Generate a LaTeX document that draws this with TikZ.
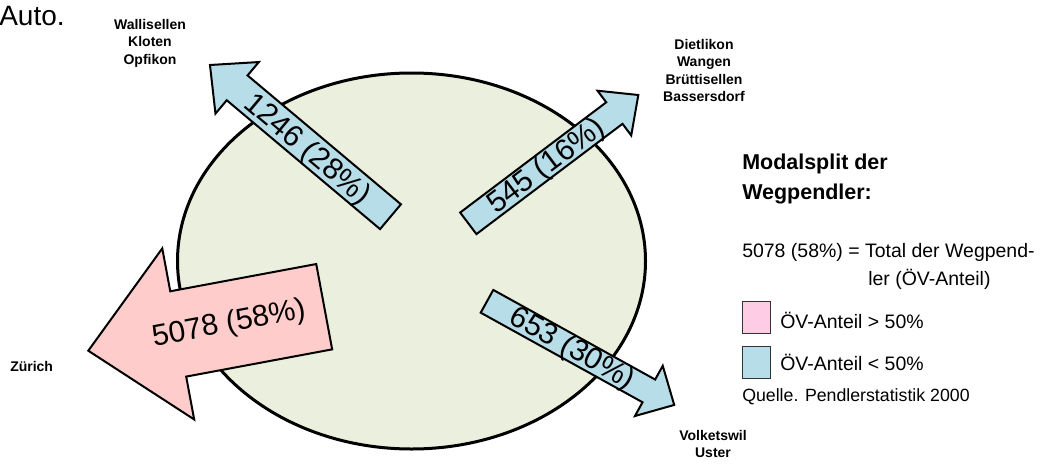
\documentclass[tikz,border=0pt]{standalone}
\usepackage{fontspec}
\setmainfont{Liberation Sans}
\definecolor{ellfill}{RGB}{235,239,222}
\definecolor{bluefill}{RGB}{183,221,232}
\definecolor{pinkarrow}{RGB}{255,204,204}
\definecolor{pinkbox}{RGB}{255,204,229}
\tikzset{
  arrowline/.style={draw=black, line width=1.5pt, line join=miter},
  pics/blockarrow/.style n args={5}{code={
    \draw[arrowline, fill=#5] (0,-#2) -- ({#1-#4},-#2) -- ({#1-#4},-#3) -- (#1,0)
      -- ({#1-#4},#3) -- ({#1-#4},#2) -- (0,#2) -- cycle;}},
  arrowtext/.style={font=\fontsize{22.5pt}{27pt}\selectfont, inner sep=0pt},
  place/.style={font=\fontsize{10.5pt}{13.1pt}\selectfont\bfseries, align=center, inner sep=0pt},
  legendtext/.style={font=\fontsize{14.6pt}{17.5pt}\selectfont, inner sep=0pt, anchor=base west},
  legendtitle/.style={font=\fontsize{16.1pt}{19pt}\selectfont\bfseries, inner sep=0pt, anchor=base west},
  legendbox/.style={draw=black!80, line width=0.6pt}
}
\begin{document}
\begin{tikzpicture}[x=0.75pt, y=-0.75pt]
\useasboundingbox (0,0) rectangle (1042,464);
% central area
\draw[line width=2.25pt, fill=ellfill] (411.5,261) ellipse [x radius=175.5pt, y radius=141pt];
% arrows
\pic[rotate=139.96] at (390.5,216.7) {blockarrow={235.8}{16.2}{33.7}{35.5}{bluefill}};
\pic[rotate=37.04] at (468.3,223.3) {blockarrow={213}{13.5}{28}{30}{bluefill}};
\pic[rotate=-28.97] at (487,301.3) {blockarrow={214}{13}{28.7}{29}{bluefill}};
\pic[rotate=190.57] at (324.2,306.7) {blockarrow={240}{43.4}{87}{91.5}{pinkarrow}};
% arrow labels
\node[arrowtext, rotate=-40] (t1246) at (306.7,150) {1246 (28\%)};
\node[arrowtext, rotate=37] (t545) at (546.7,167) {545 (16\%)};
\node[arrowtext, rotate=-29] (t653) at (571.7,349.5) {653 (30\%)};
\node[arrowtext, rotate=10.6] (t5078) at (229,324.3) {5078 (58\%)};
% place names
\node[anchor=base west, inner sep=0pt, font=\fontsize{21pt}{25pt}\selectfont] (auto) at (-1,25) {Auto.};
\node[place, anchor=north] (nw) at (150,19) {Wallisellen\\Kloten\\Opfikon};
\node[place, anchor=north] (ne) at (704,39) {Dietlikon\\Wangen\\Brüttisellen\\Bassersdorf};
\node[place, anchor=north] (se) at (713,430) {Volketswil\\Uster};
\node[place, anchor=base west] (w) at (10,371.5) {Zürich};
% legend
\node[legendtitle] (lt1) at (742,169) {Modalsplit der};
\node[legendtitle] (lt2) at (742,199) {Wegpendler:};
\node[legendtext] (l1) at (742,257.5) {5078 (58\%) = Total der Wegpend-};
\node[legendtext] (l2) at (868,285.5) {ler (ÖV-Anteil)};
\draw[legendbox, fill=pinkbox] (742.7,301.7) rectangle (770.7,333.3);
\node[legendtext] (l3) at (780,328.3) {ÖV-Anteil > 50\%};
\draw[legendbox, fill=bluefill] (742.7,346.7) rectangle (770.7,378.3);
\node[legendtext] (l4) at (780,370.7) {ÖV-Anteil < 50\%};
\node[legendtext, font=\fontsize{13.3pt}{16pt}\selectfont] (src) at (742,401.7) {Quelle. Pendlerstatistik 2000};
\end{tikzpicture}
\end{document}
